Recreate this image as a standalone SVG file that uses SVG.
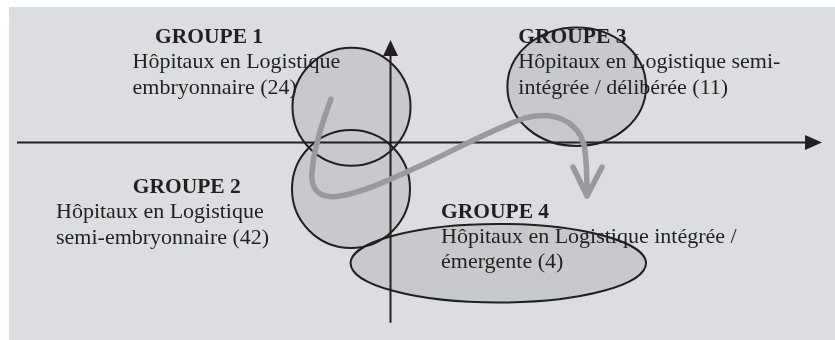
<svg xmlns="http://www.w3.org/2000/svg" width="835" height="340" viewBox="0 0 835 340">
<defs>
<style>
.blob{fill:#c8c9cc;stroke:#231f20;stroke-width:2;mix-blend-mode:darken}
.t{font-family:"Liberation Serif","Times New Roman",serif;font-size:22px;fill:#231f20}
.h{font-family:"Liberation Serif","Times New Roman",serif;font-size:21.5px;font-weight:bold;fill:#231f20}
.axis{stroke:#231f20;stroke-width:2;fill:none}
.head{fill:#231f20;stroke:none}
.flow{stroke:#999a9c;stroke-width:5.5;fill:none;stroke-linecap:round;stroke-linejoin:round}
</style>
</defs>
<rect x="9" y="7" width="826" height="333" fill="#dcdde0"/>
<g id="group1">
<circle class="blob" cx="351.5" cy="106.7" r="59"/>
</g>
<g id="group2">
<circle class="blob" cx="351" cy="189" r="59"/>
</g>
<g id="group3">
<ellipse class="blob" cx="576.7" cy="86.7" rx="69.3" ry="59.3"/>
</g>
<g id="group4">
<ellipse class="blob" cx="498.3" cy="263.3" rx="147.7" ry="39.3"/>
</g>
<g id="connectors">
<line class="axis" x1="17" y1="142.5" x2="807" y2="142.5"/>
<polygon class="head" points="822,142.5 805,135 805,150"/>
<line class="axis" x1="390.5" y1="322.7" x2="390.5" y2="54"/>
<polygon class="head" points="390.5,40 383,56 398,56"/>
<path class="flow" d="M331,99 C325,115 314,145 312,172 C310,192 322,199 340,196 C365,192 395,177 420,166 C455,150 490,130 525,118 C555,110 578,122 584,145 C587,160 587,180 587,196"/>
<path class="flow" d="M573,167 L587,196 L602,167"/>
</g>
<g id="labels">
<text class="h" x="155" y="43">GROUPE 1</text>
<text class="t" x="132.5" y="68">Hôpitaux en Logistique</text>
<text class="t" x="132.5" y="93.5">embryonnaire (24)</text>
<text class="h" x="132.7" y="193">GROUPE 2</text>
<text class="t" x="56" y="218.3">Hôpitaux en Logistique</text>
<text class="t" x="56" y="243.5">semi-embryonnaire (42)</text>
<text class="h" x="518.3" y="42.7">GROUPE 3</text>
<text class="t" x="518.3" y="67.5">Hôpitaux en Logistique semi-</text>
<text class="t" x="518.3" y="93.5">intégrée / délibérée (11)</text>
<text class="h" x="441" y="218">GROUPE 4</text>
<text class="t" x="441" y="243.3">Hôpitaux en Logistique intégrée /</text>
<text class="t" x="441" y="268">émergente (4)</text>
</g>
</svg>
